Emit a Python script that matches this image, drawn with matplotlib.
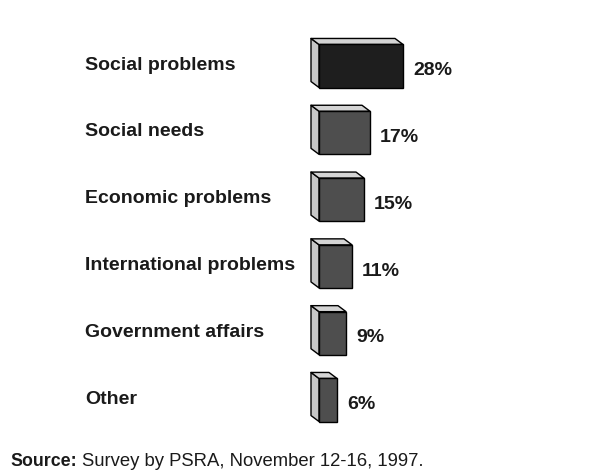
import matplotlib
matplotlib.use("Agg")
import matplotlib.pyplot as plt
from matplotlib.patches import Polygon

categories = ["Social problems", "Social needs", "Economic problems",
              "International problems", "Government affairs", "Other"]
values = [28, 17, 15, 11, 9, 6]
value_labels = ["28%", "17%", "15%", "11%", "9%", "6%"]
source_bold = "Source:"
source_text = "Survey by PSRA, November 12-16, 1997."

W, H, DPI = 616, 476, 100
fig = plt.figure(figsize=(W / DPI, H / DPI), dpi=DPI)
fig.patch.set_facecolor("white")
plt.rcParams["font.family"] = ["Liberation Sans", "DejaVu Sans"]

# axes: x from pixel 319 (0%) at 3 px per %, rows 66.8 px apart starting at 66 px
x0_px, px_per_unit = 319, 3.0
ax_w_px = 150
ax = fig.add_axes([x0_px / W, 0, ax_w_px / W, 1])
ax.set_xlim(0, ax_w_px / px_per_unit)
row_px, first_px = 66.8, 66.0
ax.set_ylim((H - first_px) / row_px, -first_px / row_px)
ax.axis("off")

bar_h = 0.645
dx = 8 / px_per_unit      # depth in x (data units)
dy = 6 / row_px           # depth in y (data units)

front_colors = ["#1e1e1e"] + ["#4e4e4e"] * (len(values) - 1)
side_color = "#c6c6c6"
top_color = "#d4d4d4"

for i, (v, c) in enumerate(zip(values, front_colors)):
    yt = i - bar_h / 2
    yb = i + bar_h / 2
    # left side face
    ax.add_patch(Polygon([(0, yt), (-dx, yt - dy), (-dx, yb - dy), (0, yb)],
                         closed=True, facecolor=side_color, edgecolor="black",
                         linewidth=1.0, joinstyle="round", zorder=2, clip_on=False))
    # top face
    ax.add_patch(Polygon([(0, yt), (-dx, yt - dy), (v - dx, yt - dy), (v, yt)],
                         closed=True, facecolor=top_color, edgecolor="black",
                         linewidth=1.0, joinstyle="round", zorder=2, clip_on=False))
    # value label
    ax.text(v + 3.3, i + 0.07, value_labels[i], fontsize=14, fontweight="bold",
            ha="left", va="center", color="#1a1a1a")

ax.barh(range(len(values)), values, height=bar_h, left=0, color=front_colors,
        edgecolor="black", linewidth=1.0, zorder=3, clip_on=False)

for i, cat in enumerate(categories):
    fig.text(85 / W, 1 - (first_px - 1 + row_px * i) / H, cat, fontsize=14,
             fontweight="bold", ha="left", va="center", color="#1a1a1a")

fig.text(10 / W, 1 - 461 / H, source_bold, fontsize=12.8, fontweight="bold",
         ha="left", va="center", color="#1a1a1a")
fig.text(82 / W, 1 - 461 / H, source_text, fontsize=13.3,
         ha="left", va="center", color="#1a1a1a")

fig.savefig("out.png", dpi=DPI, facecolor="white")
